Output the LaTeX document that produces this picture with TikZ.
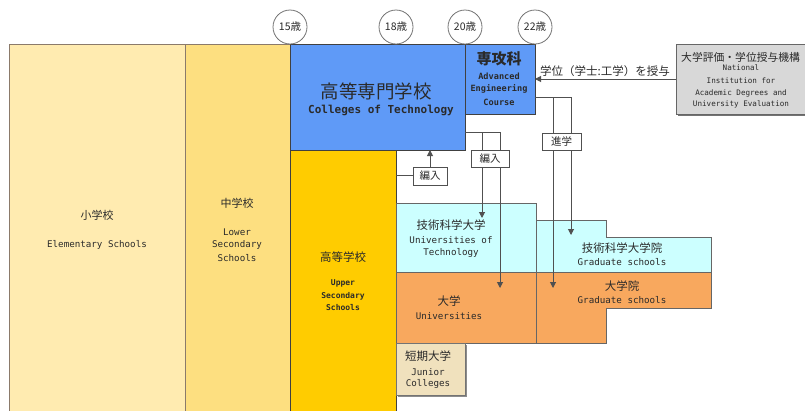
\documentclass[tikz,border=0pt]{standalone}
\usepackage{fontspec}
\setmainfont{DejaVu Sans Mono}
\newfontfamily\jp{Noto Sans CJK JP}
\usetikzlibrary{arrows.meta}
\definecolor{elemc}{HTML}{FFEBB0}
\definecolor{lowc}{HTML}{FDDF80}
\definecolor{brownb}{HTML}{8B7A6A}
\definecolor{bluec}{HTML}{5F9AF7}
\definecolor{goldc}{HTML}{FFCC00}
\definecolor{cyanc}{HTML}{CCFFFF}
\definecolor{orangec}{HTML}{F8A85E}
\definecolor{juniorc}{HTML}{F0E1BD}
\definecolor{niadc}{HTML}{D8D8D8}
\definecolor{linec}{HTML}{505050}
\definecolor{txtc}{HTML}{2A2A2A}
\begin{document}
\begin{tikzpicture}[x=1pt,y=-1pt,
  tbox/.style={rectangle, inner sep=0pt, outer sep=0pt, anchor=north west, line width=0.9pt},
  lab/.style={text=txtc, align=center, inner sep=0pt},
  jpl/.style={lab, font=\jp\fontsize{#1}{#1}\selectfont},
  enl/.style={lab, font=\fontsize{#1}{#1}\selectfont},
  enb/.style={lab, font=\bfseries\fontsize{#1}{#1}\selectfont},
  conn/.style={draw=linec, line width=1pt},
  arr/.style={conn, -{Triangle[length=6pt,width=6pt]}},
  tagbox/.style={draw=linec, fill=white, line width=0.9pt, inner sep=0pt, minimum height=17pt, text=txtc, font=\jp\fontsize{10.5}{10.5}\selectfont},
  agec/.style={circle, draw=black!55, fill=white, line width=0.8pt, minimum size=34pt, inner sep=0pt, text=txtc, font=\jp\fontsize{10.5}{10.5}\selectfont}
]
\useasboundingbox (0,0) rectangle (805,410);
% boxes
\node[tbox, fill=elemc, draw=brownb, minimum width=176pt, minimum height=372pt] (elem) at (9,44) {};
\node[tbox, fill=lowc, draw=brownb, minimum width=105pt, minimum height=372pt] (low) at (185,44) {};
\node[tbox, fill=bluec, draw=black!75, minimum width=175pt, minimum height=106pt] (kosen) at (290,44) {};
\node[tbox, fill=bluec, draw=black!75, minimum width=70pt, minimum height=70pt] (adv) at (465,44) {};
\node[tbox, fill=goldc, draw=black!75, minimum width=106pt, minimum height=266pt] (upper) at (290,150) {};
\node[tbox, fill=cyanc, draw=black!60, minimum width=140pt, minimum height=69pt] (techuniv) at (396,203) {};
\node[tbox, fill=orangec, draw=black!60, minimum width=140pt, minimum height=71pt] (univ) at (396,272) {};
\fill[black!45] (398,345) rectangle (467,397);
\node[tbox, fill=juniorc, draw=black!55, minimum width=69pt, minimum height=52pt] (junior) at (396,343) {};
\fill[black!55] (678,46) rectangle (820,116);
\node[tbox, fill=niadc, draw=black!60, minimum width=140pt, minimum height=70pt] (niad) at (676,44) {};
\draw[fill=cyanc, draw=black!60, line width=0.9pt] (536,220) -- (606,220) -- (606,237) -- (711,237) -- (711,272) -- (536,272) -- cycle;
\draw[fill=orangec, draw=black!60, line width=0.9pt] (536,272) -- (711,272) -- (711,308) -- (606,308) -- (606,343) -- (536,343) -- cycle;
% age circles
\node[agec] (a15) at (290,27) {15歳};
\node[agec] (a18) at (396,27) {18歳};
\node[agec] (a20) at (465,27) {20歳};
\node[agec] (a22) at (535,27) {22歳};
% texts
\node[jpl=11] (t1) at (97,215) {小学校};
\node[enl=9.2] (t2) at (97,245) {Elementary Schools};
\node[jpl=11] (t3) at (237,203) {中学校};
\node[enl=9.2] (t4) at (237,232) {Lower};
\node[enl=9.2] (t5) at (237,245) {Secondary};
\node[enl=9.2] (t6) at (237,258) {Schools};
\node[jpl=18.5] (t7) at (376,91) {高等専門学校};
\node[enb=11] (t8) at (381,110) {Colleges of Technology};
\node[jpl=15] (t9) at (499,59) {\bfseries 専攻科};
\node[enb=8.6] (t10) at (499,76) {Advanced};
\node[enb=8.6] (t11) at (499,89) {Engineering};
\node[enb=8.6] (t12) at (499,102) {Course};
\node[jpl=11.5] (t13) at (343,257) {高等学校};
\node[enb=8] (t14) at (343,283) {Upper};
\node[enb=8] (t15) at (343,296) {Secondary};
\node[enb=8] (t16) at (343,308) {Schools};
\node[jpl=11.5] (t17) at (451,225) {技術科学大学};
\node[enl=9.2] (t18) at (451,240) {Universities of};
\node[enl=9.2] (t19) at (451,253) {Technology};
\node[jpl=11.5] (t20) at (622,248) {技術科学大学院};
\node[enl=9.2] (t21) at (622,262) {Graduate schools};
\node[jpl=11.5] (t22) at (449,301) {大学};
\node[enl=9.2] (t23) at (449,316) {Universities};
\node[jpl=11.5] (t24) at (622,286) {大学院};
\node[enl=9.2] (t25) at (622,300) {Graduate schools};
\node[jpl=11.5] (t26) at (428,356) {短期大学};
\node[enl=9.2] (t27) at (428,372) {Junior};
\node[enl=9.2] (t28) at (428,384) {Colleges};
\node[jpl=10.8, anchor=west] (t29) at (681,57) {大学評価・学位授与機構};
\node[enl=7.6] (t30) at (741,68) {National};
\node[enl=7.6] (t31) at (741,81) {Institution for};
\node[enl=7.6] (t32) at (741,93) {Academic Degrees and};
\node[enl=7.6] (t33) at (741,104) {University Evaluation};
% connectors
\coordinate (y79) at (0,79);
\coordinate (y97) at (0,97);
\coordinate (y132) at (0,132);
\coordinate (y175) at (0,175);
\draw[arr] (niad.west |- y79) -- (adv.east |- y79);
\node[jpl=11.5] (deg) at (605,71) {学位（学士:工学）を授与};
% advanced -> graduate
\coordinate (s1) at (571,97);
\coordinate (s2) at (553,97);
\coordinate (tgin) at (571,235);
\coordinate (gin) at (553,288);
\draw[conn] (adv.east |- y97) -- (s1);
\draw[arr] (s1) -- (tgin);
\draw[arr] (s2) -- (gin);
\node[tagbox, minimum width=39pt] (shin) at (561.5,141.5) {進学};
% kosen -> universities
\coordinate (k1) at (500,132);
\coordinate (k2) at (482,132);
\coordinate (tuin) at (482,218);
\coordinate (uin) at (500,288);
\draw[conn] (kosen.east |- y132) -- (k1);
\draw[arr] (k1) -- (uin);
\draw[arr] (k2) -- (tuin);
\node[tagbox, minimum width=38pt] (hen1) at (490,158.5) {編入};
% upper secondary -> kosen
\node[tagbox, minimum width=34pt, minimum height=18pt] (hen2) at (430,176) {編入};
\draw[conn] (upper.east |- y175) -- (hen2.west |- y175);
\draw[arr] (hen2.north) -- (kosen.south -| hen2.north);
\end{tikzpicture}
\end{document}
